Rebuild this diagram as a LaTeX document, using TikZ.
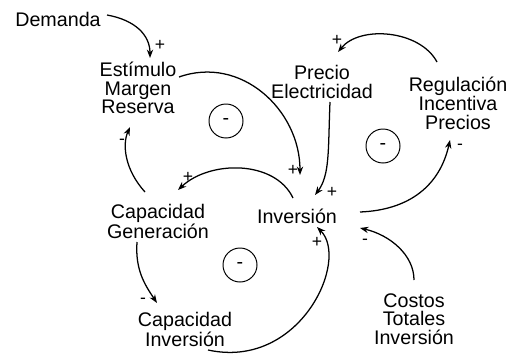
\documentclass[tikz,border=0pt]{standalone}
\usepackage{fontspec}
\setmainfont{Liberation Sans}
\usetikzlibrary{arrows.meta, calc}

\begin{document}
\begin{tikzpicture}[x=0.025cm, y=-0.025cm,
  font=\fontsize{14}{13}\selectfont,
  var/.style={align=center, inner sep=1pt},
  link/.style={-{Stealth[length=6pt, width=4.5pt]}, line width=0.9pt},
  sign/.style={font=\fontsize{12.5}{12.5}\selectfont, inner sep=0pt},
  loopmark/.style={draw, circle, line width=0.7pt, minimum size=0.85cm, inner sep=0pt}]
  \useasboundingbox (0,0) rectangle (512,355);
  % Variables
  \node[var] (dem)  at (58,19)   {Demanda};
  \node[var] (est)  at (138,88)  {Estímulo\\Margen\\Reserva};
  \node[var] (pre)  at (322,82)  {Precio\\Electricidad};
  \node[var] (reg)  at (458,103) {Regulación\\Incentiva\\Precios};
  \node[var] (cgen) at (158,221) {Capacidad\\Generación};
  \node[var] (inv)  at (297,216) {Inversión};
  \node[var] (cinv) at (185,329) {Capacidad\\Inversión};
  \node[var] (cost) at (414,319) {Costos\\Totales\\Inversión};
  % Loop markers
  \node[loopmark] (loopa) at (226,121) {-};
  \node[loopmark] (loopb) at (383,146) {-};
  \node[loopmark] (loopc) at (240,265) {-};
  % Causal links
  \draw[link] ($(dem)+(49,-4)$)  .. controls +(28,5) and +(0,-23) .. ($(est)+(12,-30)$);
  \draw[link] ($(est)+(41,-11)$) .. controls +(62,-22) and +(0,-65) .. ($(inv)+(3,-41)$);
  \draw[link] ($(pre)+(8,20)$)   .. controls +(-2,48) and +(15,-20) .. ($(inv)+(18,-21)$);
  \draw[link] ($(reg)+(-21,-41)$) .. controls +(-17,-32) and +(22,-27) .. ($(pre)+(16,-30)$);
  \draw[link] ($(inv)+(63,-4)$)  .. controls +(50,-2) and +(-10,45) .. ($(reg)+(-8,37)$);
  \draw[link] ($(cost)+(0,-39)$) .. controls +(0,-25) and +(30,7) .. ($(inv)+(63,12)$);
  \draw[link] ($(cinv)+(23,21)$) .. controls +(92,20) and +(33,33) .. ($(inv)+(20,11)$);
  \draw[link] ($(cgen)+(-21,21)$) .. controls +(-2,28) and +(-12,-18) .. ($(cinv)+(-28,-26)$);
  \draw[link] ($(inv)+(-4,-18)$) .. controls +(-18,-38) and +(32,-30) .. ($(cgen)+(20,-31)$);
  \draw[link] ($(cgen)+(-13,-29)$) .. controls +(-20,-22) and +(-8,18) .. ($(est)+(-8,39)$);
  % Polarities
  \node[sign] (s1)  at (160,45)  {+};
  \node[sign] (s2)  at (293,170) {+};
  \node[sign] (s3)  at (332,192) {+};
  \node[sign] (s4)  at (337,40)  {+};
  \node[sign] (s5)  at (460,147) {-};
  \node[sign] (s6)  at (365,242) {-};
  \node[sign] (s7)  at (317,242) {+};
  \node[sign] (s8)  at (143,301) {-};
  \node[sign] (s9)  at (188,177) {+};
  \node[sign] (s10) at (122,142) {-};
\end{tikzpicture}
\end{document}
